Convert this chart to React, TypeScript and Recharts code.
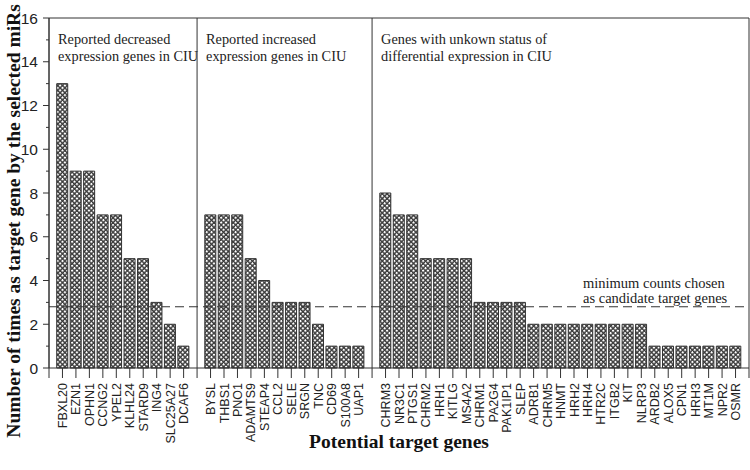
import { BarChart, Bar, XAxis, YAxis, ReferenceLine } from 'recharts';

const decreasedGenes = ['FBXL20', 'EZN1', 'OPHN1', 'CCNG2', 'YPEL2', 'KLHL24', 'STARD9', 'ING4', 'SLC25A27', 'DCAF6'];
const decreasedCounts = [13, 9, 9, 7, 7, 5, 5, 3, 2, 1];

const increasedGenes = ['BYSL', 'THBS1', 'PNO1', 'ADAMTS9', 'STEAP4', 'CCL2', 'SELE', 'SRGN', 'TNC', 'CD69', 'S100A8', 'UAP1'];
const increasedCounts = [7, 7, 7, 5, 4, 3, 3, 3, 2, 1, 1, 1];

const unknownGenes = [
  'CHRM3', 'NR3C1', 'PTGS1', 'CHRM2', 'HRH1', 'KITLG', 'MS4A2', 'CHRM1', 'PA2G4', 'PAK1IP1',
  'SLEP', 'ADRB1', 'CHRM5', 'HNMT', 'HRH2', 'HRH4', 'HTR2C', 'ITGB2', 'KIT', 'NLRP3',
  'ARDB2', 'ALOX5', 'CPN1', 'HRH3', 'MT1M', 'NPR2', 'OSMR',
];
const unknownCounts = [8, 7, 7, 5, 5, 5, 5, 3, 3, 3, 3, 2, 2, 2, 2, 2, 2, 2, 2, 2, 1, 1, 1, 1, 1, 1, 1];

const groupTitles = [
  ['Reported decreased', 'expression genes in CIU'],
  ['Reported increased', 'expression genes in CIU'],
  ['Genes with unkown status of', 'differential expression in CIU'],
];
const thresholdTitle = ['minimum counts chosen', 'as candidate target genes'];

const yTicks = [0, 1, 2, 3, 4, 5, 6, 7, 8, 9, 10, 11, 12, 13, 14, 15, 16];
const threshold = 2.8;

// lay the genes out on a numeric axis, one empty slot after each group
const groups = [
  { genes: decreasedGenes, counts: decreasedCounts },
  { genes: increasedGenes, counts: increasedCounts },
  { genes: unknownGenes, counts: unknownCounts },
];
const data: { pos: number; gene: string; count: number }[] = [];
const groupStarts: number[] = [];
let pos = 1;
groups.forEach((g) => {
  groupStarts.push(pos - 1);
  g.genes.forEach((gene, i) => {
    data.push({ pos, gene, count: g.counts[i] });
    pos++;
  });
  pos++;
});
const xMax = pos - 1;
const xTicks = Array.from({ length: xMax + 1 }, (_, i) => i);
const nameAt: Record<number, string> = {};
data.forEach((d) => (nameAt[d.pos] = d.gene));

const ink = '#333';
const serif = '"Liberation Serif", "Times New Roman", serif';
const sans = '"Liberation Sans", Arial, sans-serif';

const GeneTick = ({ x, y, payload }: any) => {
  const name = nameAt[payload.value] ?? '';
  return (
    <g>
      <line x1={x} x2={x} y1={y} y2={y + 10} stroke={ink} />
      {name && (
        <text
          transform={`translate(${x + 4.5},${y + 15}) rotate(-90)`}
          textAnchor="end"
          fontSize={12.5}
          fontFamily={sans}
          fill="#222"
        >
          {name}
        </text>
      )}
    </g>
  );
};

const CountTick = ({ x, y, payload }: any) => {
  const v = payload.value;
  const major = v % 2 === 0;
  return (
    <g>
      <line x1={x - (major ? 6 : 3)} x2={x} y1={y} y2={y} stroke={ink} />
      {major && (
        <text x={x - 11} y={y + 5.5} textAnchor="end" fontSize={15.5} fontFamily={sans} fill="#222">
          {v}
        </text>
      )}
    </g>
  );
};

const groupLabel = (lines: string[]) => (props: any) => {
  const { x, y } = props.viewBox;
  return (
    <text fontSize={14.3} fontFamily={serif} fill="#222">
      <tspan x={x + 9} y={y + 26}>{lines[0]}</tspan>
      <tspan x={x + 9} y={y + 43}>{lines[1]}</tspan>
    </text>
  );
};

const thresholdLabel = (props: any) => {
  const { x, y } = props.viewBox;
  return (
    <text fontSize={14.5} fontFamily={serif} fill="#222">
      <tspan x={x + 534} y={y - 19}>{thresholdTitle[0]}</tspan>
      <tspan x={x + 534} y={y - 4}>{thresholdTitle[1]}</tspan>
    </text>
  );
};

export default function App() {
  return (
    <div style={{ position: 'absolute', left: 0, top: 0, width: 750, height: 470, background: '#fff' }}>
      <svg width={0} height={0} style={{ position: 'absolute' }}>
        <defs>
          <pattern id="xhatch" width={3.4} height={3.4} patternUnits="userSpaceOnUse" patternTransform="rotate(45)">
            <rect width={3.4} height={3.4} fill="#3a3a3a" />
            <rect width={2} height={2} fill="#fff" />
          </pattern>
        </defs>
      </svg>
      <BarChart width={750} height={470} data={data} margin={{ top: 18, right: 1, bottom: 12, left: 19 }}>
        <XAxis
          dataKey="pos"
          type="number"
          domain={[0, xMax]}
          ticks={xTicks}
          interval={0}
          height={90}
          tickSize={0}
          tickMargin={0}
          tick={<GeneTick />}
          axisLine={{ stroke: ink }}
        />
        <YAxis
          type="number"
          domain={[0, 16]}
          ticks={yTicks}
          interval={0}
          width={30}
          tickSize={0}
          tickMargin={0}
          tick={<CountTick />}
          axisLine={{ stroke: ink }}
        />
        <Bar dataKey="count" barSize={11} fill="url(#xhatch)" stroke={ink} strokeWidth={1} isAnimationActive={false} />
        <ReferenceLine y={16} stroke={ink} />
        <ReferenceLine x={xMax} stroke={ink} />
        {groupStarts.map((s, i) => (
          <ReferenceLine key={s} x={s} stroke={ink} label={groupLabel(groupTitles[i])} />
        ))}
        <ReferenceLine y={threshold} stroke={ink} strokeDasharray="9 5" label={thresholdLabel} />
      </BarChart>
      <svg width={750} height={470} style={{ position: 'absolute', left: 0, top: 0, pointerEvents: 'none' }}>
        <text
          transform="translate(20,221) rotate(-90)"
          textAnchor="middle"
          fontSize={19.5}
          fontWeight="bold"
          fontFamily={serif}
          fill="#111"
        >
          Number of times as target gene by the selected miRs
        </text>
        <text x={399} y={448} textAnchor="middle" fontSize={19.5} fontWeight="bold" fontFamily={serif} fill="#111">
          Potential target genes
        </text>
      </svg>
    </div>
  );
}
